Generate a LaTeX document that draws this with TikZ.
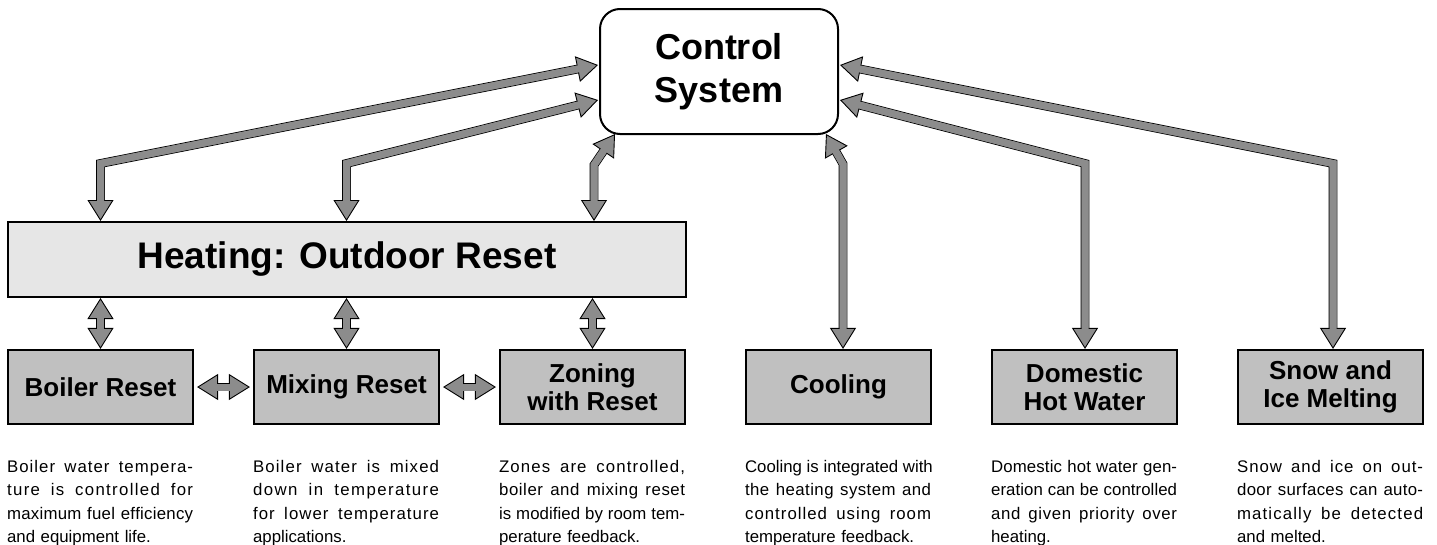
\documentclass[tikz,border=0pt]{standalone}
\usepackage{fontspec}
\setmainfont{Liberation Sans}
\usetikzlibrary{arrows.meta}
\definecolor{arrowgray}{RGB}{140,140,140}
\definecolor{boxgray}{RGB}{192,192,192}
\definecolor{heatgray}{RGB}{230,230,230}
\newcount\mycc
\mycc=`a \loop \XeTeXcharclass\mycc=1 \advance\mycc by 1 \ifnum\mycc<123 \repeat
\mycc=`A \loop \XeTeXcharclass\mycc=1 \advance\mycc by 1 \ifnum\mycc<91 \repeat
\XeTeXcharclass`\-=1 \XeTeXcharclass`\,=1 \XeTeXcharclass`\.=1
\XeTeXinterchartoks 1 1 = {\hskip 0pt plus 0.22fil\relax}
\newcommand{\justln}[1]{\leavevmode\hbox to 186pt{\XeTeXinterchartokenstate=1 \spaceskip=0.278em plus 1fil\relax #1}}
\tikzset{
  fathead/.tip={Triangle[length=21pt,width=26pt,line width=0.9pt,color=black,fill=arrowgray]},
  fat/.style={draw=arrowgray, line width=7pt, line join=miter, arrows={fathead-fathead},
    preaction={draw=black, line width=8.8pt, arrows=-, line join=miter, shorten <=18pt, shorten >=18pt},
    postaction={draw=arrowgray, line width=7pt, arrows=-, line join=miter, shorten <=17pt, shorten >=17pt}},
  ctrlbox/.style={draw, line width=2pt, fill=white, rounded corners=20pt, minimum width=238pt,
    minimum height=125pt, inner sep=0pt, align=center,
    font=\fontsize{36}{43}\selectfont\bfseries},
  heatbox/.style={draw, line width=2pt, fill=heatgray, minimum width=678pt, minimum height=75pt,
    inner sep=0pt, font=\fontsize{37}{44}\selectfont\bfseries},
  sbox/.style={draw, line width=2.2pt, fill=boxgray, minimum width=185pt, minimum height=74pt,
    inner sep=0pt, align=center, font=\fontsize{26}{28}\selectfont\bfseries},
  desc/.style={anchor=north west, inner sep=0pt, text width=186pt, align=left,
    font=\fontsize{16.8}{23.3}\selectfont}
}
\begin{document}
\begin{tikzpicture}[x=1pt,y=-1pt]
\useasboundingbox (0,0) rectangle (1437,544);
% nodes
\node[ctrlbox] (ctrl) at (719,71.5) {Control\\System};
\node[heatbox] (heat) at (347,259.5) {Heating: Outdoor Reset};
\node[sbox] (boiler) at (100.5,387) {Boiler Reset};
\node[sbox] (mixing) at (346.5,387) {Mixing Reset};
\node[sbox] (zoning) at (592.5,387) {Zoning\\with Reset};
\node[sbox] (cooling) at (838.5,387) {Cooling};
\node[sbox] (dhw) at (1084.5,387) {Domestic\\Hot Water};
\node[sbox] (snow) at (1330.5,387) {Snow and\\Ice Melting};
% bend points and tips
\coordinate (b1) at (100.5,163.5);
\coordinate (b2) at (346.5,163.5);
\coordinate (b3) at (594,165);
\coordinate (b4) at (843,164);
\coordinate (b5) at (1085,163.5);
\coordinate (b6) at (1333,163.5);
\coordinate (t1) at ([xshift=-1pt,yshift=6.5pt]ctrl.west);
\coordinate (t2) at ([xshift=-1pt,yshift=-28.5pt]ctrl.west);
\coordinate (t3) at ([xshift=16pt,yshift=1pt]ctrl.south west);
\coordinate (t4) at ([xshift=-13pt,yshift=1pt]ctrl.south east);
\coordinate (t5) at ([xshift=1pt,yshift=-28.5pt]ctrl.east);
\coordinate (t6) at ([xshift=1pt,yshift=6.5pt]ctrl.east);
% long connectors
\draw[fat] (heat.north -| b1) -- (b1) -- (t1);
\draw[fat] (heat.north -| b2) -- (b2) -- (t2);
\draw[fat] (heat.north -| b3) -- (b3) -- (t3);
\draw[fat] (cooling.north -| b4) -- (b4) -- (t4);
\draw[fat] (dhw.north -| b5) -- (b5) -- (t5);
\draw[fat] (snow.north -| b6) -- (b6) -- (t6);
% short connectors
\draw[fat] (heat.south -| boiler.north) -- (boiler.north);
\draw[fat] (heat.south -| mixing.north) -- (mixing.north);
\draw[fat] (heat.south -| zoning.north) -- (zoning.north);
\draw[fat] ([xshift=3pt]boiler.east) -- ([xshift=-3pt]mixing.west);
\draw[fat] ([xshift=3pt]mixing.east) -- ([xshift=-3pt]zoning.west);
% descriptions
\node[desc] (d1) at ([yshift=-35pt]boiler.south west) {\justln{Boiler water tempera-}\\\justln{ture is controlled for}\\\justln{maximum fuel efficiency}\\and equipment life.};
\node[desc] (d2) at ([yshift=-35pt]mixing.south west) {\justln{Boiler water is mixed}\\\justln{down in temperature}\\\justln{for lower temperature}\\applications.};
\node[desc] (d3) at ([yshift=-35pt]zoning.south west) {\justln{Zones are controlled,}\\\justln{boiler and mixing reset}\\\justln{is modified by room tem-}\\perature feedback.};
\node[desc] (d4) at ([yshift=-35pt]cooling.south west) {\justln{Cooling is integrated with}\\\justln{the heating system and}\\\justln{controlled using room}\\temperature feedback.};
\node[desc] (d5) at ([yshift=-35pt]dhw.south west) {\justln{Domestic hot water gen-}\\\justln{eration can be controlled}\\\justln{and given priority over}\\heating.};
\node[desc] (d6) at ([yshift=-35pt]snow.south west) {\justln{Snow and ice on out-}\\\justln{door surfaces can auto-}\\\justln{matically be detected}\\and melted.};
\end{tikzpicture}
\end{document}
